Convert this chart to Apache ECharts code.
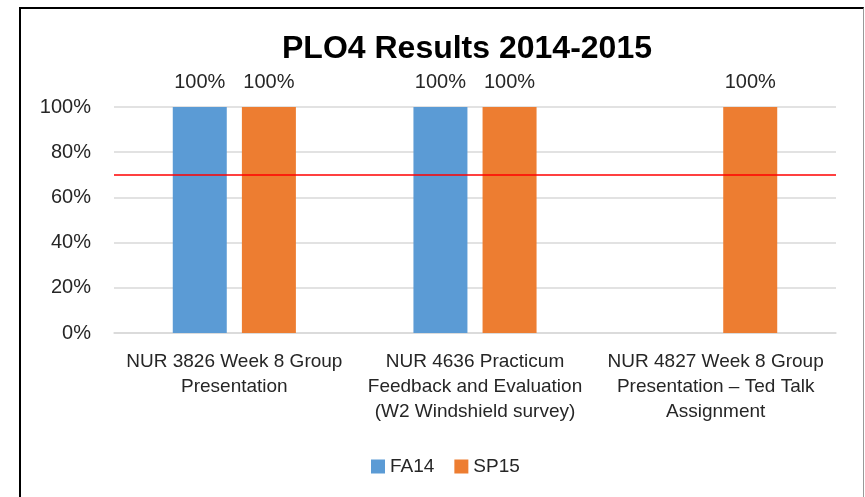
<!DOCTYPE html>
<html>
<head>
<meta charset="utf-8">
<script src="https://cdn.jsdelivr.net/npm/echarts@6/dist/echarts.min.js"></script>
<style>
  html, body { margin: 0; padding: 0; background: #fff; }
  #chart { position: absolute; left: 0; top: 0; width: 865px; height: 497px; }
  #frame {
    position: absolute; left: 19px; top: 7px; width: 842px; height: 500px;
    border-left: 2px solid #000; border-top: 2px solid #000; border-right: 1px solid #999;
    pointer-events: none;
  }
</style>
</head>
<body>
<div id="chart"></div>
<div id="frame"></div>
<script>
// data
const categories = [
    'NUR 3826 Week 8 Group\nPresentation',
    'NUR 4636 Practicum\nFeedback and Evaluation\n(W2 Windshield survey)',
    'NUR 4827 Week 8 Group\nPresentation \u2013 Ted Talk\nAssignment'
];
const fa14 = [100, 100, null];
const sp15 = [100, 100, 100];
const target = 70;
const yTicks = [0, 20, 40, 60, 80, 100];

const font = '"Liberation Sans", Arial, sans-serif';
const textColor = '#262626';

const chart = echarts.init(document.getElementById('chart'));

const barLabel = {
    show: true,
    position: 'top',
    distance: 15,
    formatter: '{c}%',
    fontFamily: font,
    fontSize: 20,
    color: textColor
};

chart.setOption({
    animation: false,
    backgroundColor: '#fff',
    title: {
        text: 'PLO4 Results 2014-2015',
        left: 277,
        top: 28,
        textStyle: {
            fontFamily: font,
            fontWeight: 'bold',
            fontSize: 32,
            color: '#000'
        }
    },
    legend: {
        bottom: 16,
        left: 366,
        itemWidth: 14,
        itemHeight: 14,
        itemGap: 20,
        icon: 'rect',
        textStyle: { fontFamily: font, fontSize: 19, color: textColor },
        data: ['FA14', 'SP15']
    },
    grid: { left: 114, right: 29, top: 107, bottom: 164 },
    xAxis: {
        type: 'category',
        data: categories,
        axisTick: { show: false },
        axisLine: { lineStyle: { color: '#d9d9d9', width: 1.5 } },
        axisLabel: {
            interval: 0,
            margin: 16,
            fontFamily: font,
            fontSize: 19,
            lineHeight: 25,
            color: textColor
        }
    },
    yAxis: {
        type: 'value',
        min: yTicks[0],
        max: yTicks[yTicks.length - 1],
        interval: 20,
        axisLine: { show: false },
        axisTick: { show: false },
        splitLine: { lineStyle: { color: '#d9d9d9', width: 1.5 } },
        axisLabel: {
            formatter: '{value}%',
            margin: 23,
            fontFamily: font,
            fontSize: 20,
            color: textColor
        }
    },
    series: [
        {
            name: 'FA14',
            type: 'bar',
            data: fa14,
            barWidth: 54,
            barGap: '28%',
            itemStyle: { color: '#5b9bd5' },
            label: barLabel
        },
        {
            name: 'SP15',
            type: 'bar',
            data: sp15,
            barWidth: 54,
            itemStyle: { color: '#ed7d31' },
            label: barLabel,
            markLine: {
                silent: true,
                symbol: 'none',
                label: { show: false },
                lineStyle: { color: '#ff0000', width: 1.5, type: 'solid' },
                data: [{ yAxis: target }]
            }
        }
    ]
});
</script>
</body>
</html>
